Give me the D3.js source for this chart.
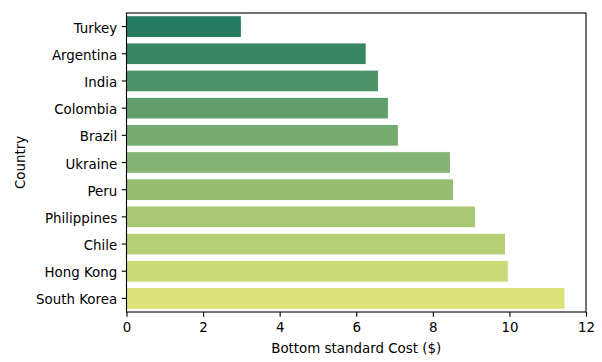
<!DOCTYPE html>
<html>
<head>
<meta charset="utf-8">
<script src="https://cdn.jsdelivr.net/npm/d3@7"></script>
<style>
  body { margin: 0; background: #fff; }
  svg { display: block; }
  text { font-family: "DejaVu Sans", sans-serif; }
</style>
</head>
<body>
<svg id="chart" width="602" height="362"></svg>
<script>
const countries = ["Turkey", "Argentina", "India", "Colombia", "Brazil", "Ukraine", "Peru", "Philippines", "Chile", "Hong Kong", "South Korea"];
const costs = [3.0, 6.26, 6.58, 6.84, 7.1, 8.46, 8.54, 9.11, 9.9, 9.97, 11.45];
const xTicks = [0, 2, 4, 6, 8, 10, 12];
const xLabel = "Bottom standard Cost ($)";
const yLabel = "Country";

const svg = d3.select("#chart");
const m = { left: 126.5, right: 586, top: 13, bottom: 312 };
const fs = 13.4;

const x = d3.scaleLinear().domain([0, 12]).range([m.left, m.right]);
const y = d3.scaleBand().domain(countries).range([m.top, m.bottom]).paddingInner(0.2).paddingOuter(0.1);

// seaborn "summer" palette, desaturated to 0.75
const n = countries.length;
const colors = d3.range(n).map(i => {
  const t = (i + 1) / (n + 1);
  const c = d3.hsl(d3.rgb(t * 255, (0.5 + 0.5 * t) * 255, 0.4 * 255));
  c.s *= 0.75;
  return c.formatHex();
});

svg.append("g").selectAll("rect")
  .data(countries)
  .join("rect")
  .attr("x", x(0))
  .attr("y", d => y(d))
  .attr("width", (d, i) => x(costs[i]) - x(0))
  .attr("height", y.bandwidth())
  .attr("fill", (d, i) => colors[i])
  .attr("stroke", "#fff")
  .attr("stroke-width", 1);

// x axis
const xAxis = svg.append("g")
  .attr("transform", `translate(0,${m.bottom})`)
  .call(d3.axisBottom(x).tickValues(xTicks).tickSize(4.8).tickPadding(6).tickFormat(d3.format("d")));
xAxis.select(".domain").remove();
xAxis.selectAll("line").attr("stroke", "#000").attr("stroke-width", 1.1);
xAxis.selectAll("text").attr("font-size", fs).attr("fill", "#000");

// y axis
const yAxis = svg.append("g")
  .attr("transform", `translate(${m.left},0)`)
  .call(d3.axisLeft(y).tickSize(4.8).tickPadding(4.5));
yAxis.select(".domain").remove();
yAxis.selectAll("line").attr("stroke", "#000").attr("stroke-width", 1.1);
yAxis.selectAll("text").attr("font-size", fs).attr("fill", "#000").attr("dy", "0.45em");

// spines
svg.append("rect")
  .attr("x", m.left).attr("y", m.top)
  .attr("width", m.right - m.left).attr("height", m.bottom - m.top)
  .attr("fill", "none").attr("stroke", "#000").attr("stroke-width", 1.1);

svg.append("text")
  .attr("x", (m.left + m.right) / 2).attr("y", 353)
  .attr("text-anchor", "middle").attr("font-size", fs).attr("fill", "#000")
  .text(xLabel);

svg.append("text")
  .attr("transform", `translate(25,${(m.top + m.bottom) / 2}) rotate(-90)`)
  .attr("text-anchor", "middle").attr("font-size", fs).attr("fill", "#000")
  .text(yLabel);
</script>
</body>
</html>
